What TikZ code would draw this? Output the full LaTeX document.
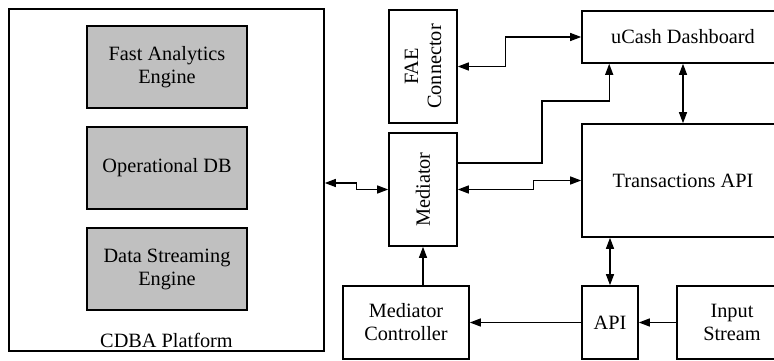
\documentclass[tikz,border=0pt]{standalone}
\usepackage{fontspec}
\setmainfont{Liberation Serif}
\usetikzlibrary{arrows.meta}
\definecolor{boxgray}{RGB}{192,192,192}
\begin{document}
\begin{tikzpicture}[x=1pt,y=-1pt,
  box/.style={draw=black,line width=1.6pt,inner sep=0pt,align=center,
    font=\fontsize{20.3}{23}\selectfont},
  gbox/.style={box,fill=boxgray},
  txt/.style={inner sep=0pt,align=center,font=\fontsize{20.3}{23}\selectfont},
  conn/.style={line width=1.2pt},
  arr/.style={conn,-{Triangle[length=11pt,width=8pt]}},
  both/.style={conn,{Triangle[length=11pt,width=8pt]}-{Triangle[length=11pt,width=8pt]}}]
\useasboundingbox (0,0) rectangle (774,361);
\begin{scope}
\clip (0,0) rectangle (774,361);
% CDBA platform
\node[box,minimum width=315pt,minimum height=342pt] (cdba) at (166.5,180) {};
\node[txt] (cdbalbl) at (166.5,340) {CDBA Platform};
\node[gbox,minimum width=160pt,minimum height=82pt] (fast) at (167,67) {Fast Analytics\\Engine};
\node[gbox,minimum width=160pt,minimum height=82pt] (opdb) at (167,168) {Operational DB};
\node[gbox,minimum width=160pt,minimum height=82pt] (dse) at (167,269) {Data Streaming\\Engine};
% middle column
\node[box,minimum width=68pt,minimum height=113pt] (fae) at (423,66.5) {};
\node[txt,rotate=90] (faelbl) at (fae.center) {FAE\\Connector};
\node[box,minimum width=68pt,minimum height=113pt] (med) at (423,189.5) {};
\node[txt,rotate=90] (medlbl) at (med.center) {Mediator};
\node[box,minimum width=126pt,minimum height=73pt] (ctrl) at (406,322.5) {Mediator\\Controller};
% right column
\node[box,minimum width=194pt,minimum height=52pt] (ucash) at (679,37) {};
\node[txt] (ucashlbl) at (683,37) {uCash Dashboard};
\node[box,minimum width=194pt,minimum height=113pt] (trans) at (679,180.5) {};
\node[txt] (translbl) at (683,180.5) {Transactions API};
\node[box,minimum width=56pt,minimum height=73pt] (api) at (610,322.5) {API};
\node[box,minimum width=99pt,minimum height=73pt] (input) at (726.5,322.5) {};
\node[txt] (inputlbl) at (732,322.5) {Input\\Stream};
\end{scope}
% connectors
\draw[both] ([yshift=-3pt]cdba.east) -- ++(32,0) |- (med.west);
\draw[both] (fae.east) -- ++(48,0) |- (ucash.west);
\draw[arr] ([yshift=26.5pt]med.east) -- (542,163) -- (542,101) -| ([xshift=28pt]ucash.south west);
\draw[both] (med.east) -- ++(76,0) |- (trans.west);
\draw[both] ([xshift=4pt]ucash.south) -- ([xshift=4pt]trans.north);
\draw[both] (api.north) -- (api.north |- trans.south);
\draw[arr] (med.south |- ctrl.north) -- (med.south);
\draw[arr] (api.west) -- (ctrl.east);
\draw[arr] (input.west) -- (api.east);
\end{tikzpicture}
\end{document}
